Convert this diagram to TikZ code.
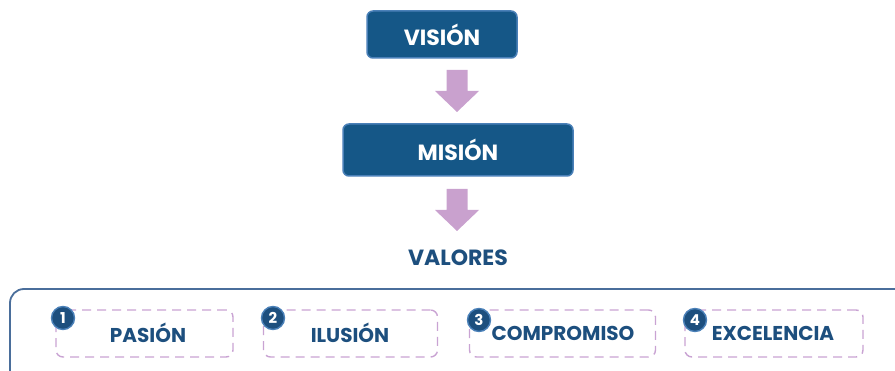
\documentclass[tikz,border=0pt]{standalone}
\usepackage{fontspec}
\setmainfont{Poppins}
\definecolor{boxblue}{HTML}{155787}
\definecolor{boxedge}{HTML}{4A80B8}
\definecolor{txtblue}{HTML}{1D4F7E}
\definecolor{arrowpink}{HTML}{C9A1CE}
\definecolor{dashpink}{HTML}{C9A3D3}
\definecolor{outerblue}{HTML}{4A6E9B}
\begin{document}
\begin{tikzpicture}[x=1pt,y=-1pt,
  mainbox/.style={draw=boxedge,line width=1.5pt,fill=boxblue,rounded corners=6pt,text=white,
    font=\fontsize{22}{26}\selectfont\bfseries,inner sep=0pt},
  itembox/.style={draw=dashpink,line width=1.4pt,dash pattern=on 9pt off 6pt,rounded corners=7pt,inner sep=0pt},
  itemtext/.style={text=txtblue,font=\fontsize{20}{24}\selectfont\bfseries,inner sep=0pt},
  badge/.style={circle,fill=txtblue,draw=boxedge,line width=1.4pt,minimum size=23pt,inner sep=0pt,
    text=white,font=\fontsize{15}{17}\selectfont\bfseries},
  blockarrow/.style={fill=arrowpink,draw=none}]
\useasboundingbox (0,0) rectangle (895,371);
\clip (0,0) rectangle (895,371);
% main boxes
\node[mainbox,minimum width=150pt,minimum height=47pt] (vision) at (442,34.5) {VISIÓN};
\node[mainbox,minimum width=230pt,minimum height=52pt] (mision) at (458,150) {MISIÓN};
\node[text=txtblue,font=\fontsize{22}{26}\selectfont\bfseries,inner sep=0pt] (valores) at (458,258) {VALORES};
% block arrows
\coordinate (a1) at (457,70);
\coordinate (a2) at (457,189);
\foreach \a in {a1,a2}{
  \fill[blockarrow] ([xshift=-10.5pt]\a) -- ([xshift=10.5pt]\a) -- ([xshift=10.5pt,yshift=-21pt]\a)
    -- ([xshift=22pt,yshift=-21pt]\a) -- ([yshift=-42pt]\a) -- ([xshift=-22pt,yshift=-21pt]\a)
    -- ([xshift=-10.5pt,yshift=-21pt]\a) -- cycle;
}
% outer frame
\draw[outerblue,line width=1.8pt,rounded corners=14pt] (10,289) rectangle (915,400);
% items
\node[itembox,minimum width=177pt,minimum height=47pt] (b1) at (144.5,333.5) {};
\node[itembox,minimum width=174pt,minimum height=47pt] (b2) at (350.5,333.5) {};
\node[itembox,minimum width=186pt,minimum height=47pt] (b3) at (562.5,333.5) {};
\node[itembox,minimum width=178pt,minimum height=47pt] (b4) at (774,333.5) {};
\node[itemtext] (t1) at (148,333) {PASIÓN};
\node[itemtext] (t2) at (350,333) {ILUSIÓN};
\node[itemtext] (t3) at (563,333) {COMPROMISO};
\node[itemtext] (t4) at (773,333) {EXCELENCIA};
\node[badge] (n1) at (63,318) {1};
\node[badge] (n2) at (273,318) {2};
\node[badge] (n3) at (479,320) {3};
\node[badge] (n4) at (695,320) {4};
\end{tikzpicture}
\end{document}
